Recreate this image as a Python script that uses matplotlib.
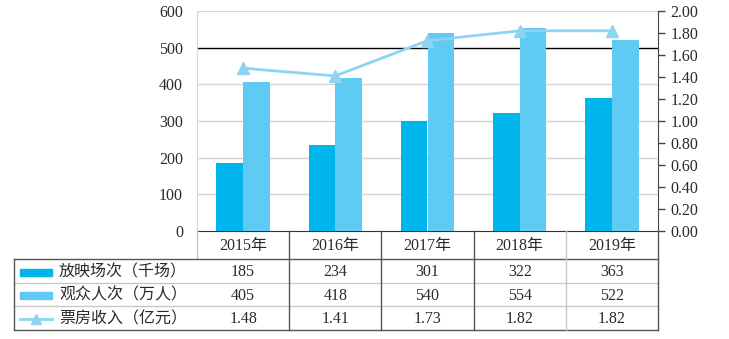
import numpy as np
import matplotlib
matplotlib.use('Agg')
import matplotlib.pyplot as plt
from matplotlib.patches import Rectangle
from matplotlib.lines import Line2D

plt.rcParams['font.family'] = ['Liberation Serif', 'Noto Sans CJK SC']

# ====================== Data ======================
years = ['2015年', '2016年', '2017年', '2018年', '2019年']
screenings = [185, 234, 301, 322, 363]          # 放映场次（千场）
audience = [405, 418, 540, 554, 522]            # 观众人次（万人）
box_office = [1.48, 1.41, 1.73, 1.82, 1.82]     # 票房收入（亿元）
series_names = ['放映场次（千场）', '观众人次（万人）', '票房收入（亿元）']
box_labels = ['1.48', '1.41', '1.73', '1.82', '1.82']

c_dark = '#00b4ec'
c_light = '#5fcaf3'
c_line = '#8ed3f1'
txt = '#2a2a2a'

W, H = 729, 339
fig = plt.figure(figsize=(W / 100, H / 100), dpi=100)

# plot area in pixels
L, R, T, B = 197, 658, 11, 231
ax = fig.add_axes([L / W, 1 - B / H, (R - L) / W, (B - T) / H])
x = np.arange(len(years))
bw = 0.29
ax.bar(x - bw / 2, screenings, bw, color=c_dark, zorder=3)
ax.bar(x + bw / 2, audience, bw, color=c_light, zorder=3)
ax.set_xlim(-0.5, len(years) - 0.5)
ax.set_ylim(0, 600)
ax.set_yticks(range(0, 601, 100))
ax.tick_params(axis='y', length=0, pad=10, labelsize=11.5, colors=txt)
ax.set_xticks([])
for v in range(100, 601, 100):
    ax.axhline(v, color='#000000' if v == 500 else '#d4d4d4', lw=1, zorder=1)
ax.spines['top'].set_visible(False)
ax.spines['right'].set_visible(False)
ax.spines['left'].set_color('#d4d4d4')
ax.spines['bottom'].set_color('#333333')

ax2 = ax.twinx()
ax2.plot(x, box_office, color=c_line, lw=2, marker='^', markersize=8, zorder=4)
ax2.set_ylim(0, 2)
ax2.set_yticks(np.arange(0, 2.01, 0.2))
ax2.set_yticklabels(['%.2f' % v for v in np.arange(0, 2.01, 0.2)])
ax2.tick_params(axis='y', length=5, width=1, color='#444444', pad=4,
                labelsize=11.5, labelcolor=txt)
for s in ['top', 'left', 'bottom']:
    ax2.spines[s].set_visible(False)
ax2.spines['right'].set_color('#444444')

# ====================== Data table ======================
tab = fig.add_axes([0, 0, 1, 1])
tab.set_xlim(0, W)
tab.set_ylim(H, 0)
tab.axis('off')

cw = (R - L) / len(years)
tl = 14
rows = [231, 259, 283, 306, 330]
dark = '#555555'
light = '#c8c8c8'

# header
for i, y in enumerate(years):
    tab.text(L + (i + 0.5) * cw, (rows[0] + rows[1]) / 2 + 1, y,
             ha='center', va='center', fontsize=11.5, color=txt)
tab.plot([L, L], [rows[0], rows[1]], color=light, lw=1)

# horizontal lines
tab.plot([tl, R], [rows[1], rows[1]], color=dark, lw=1)
tab.plot([tl, R], [rows[2], rows[2]], color=light, lw=1)
tab.plot([tl, R], [rows[3], rows[3]], color=light, lw=1)
tab.plot([tl, R], [rows[4], rows[4]], color=dark, lw=1)
# vertical lines
tab.plot([tl, tl], [rows[1], rows[4]], color=dark, lw=1)
for i in range(1, len(years)):
    col = light if i == len(years) - 1 else dark
    tab.plot([L + i * cw, L + i * cw], [rows[0], rows[4]], color=col, lw=1)
tab.plot([R, R], [rows[0], rows[4]], color=dark, lw=1)

values = [[str(v) for v in screenings], [str(v) for v in audience], box_labels]
for r in range(3):
    yc = (rows[r + 1] + rows[r + 2]) / 2 + 1
    if r < 2:
        tab.add_patch(Rectangle((20, yc - 3.5), 32, 7,
                                color=c_dark if r == 0 else c_light))
    else:
        tab.add_line(Line2D([20, 52], [yc, yc], color=c_line, lw=2))
        tab.plot([36], [yc], marker='^', color=c_line, markersize=7)
    tab.text(59, yc, series_names[r], ha='left', va='center',
             fontsize=11.5, color=txt)
    for i in range(len(years)):
        tab.text(L + (i + 0.5) * cw, yc, values[r][i], ha='center', va='center',
                 fontsize=11.5, color=txt)

fig.savefig('out.png', dpi=100)
